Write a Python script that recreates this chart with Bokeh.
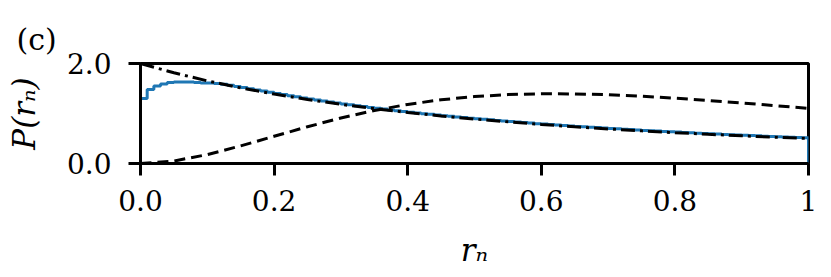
from bokeh.plotting import figure
from bokeh.models import FixedTicker, Range1d, CustomJSTickFormatter, Title
from bokeh.embed import file_html
from bokeh.resources import INLINE

# theory curves sampled along r_n
r_theory = [0.0, 0.05, 0.1, 0.15, 0.2, 0.25, 0.3, 0.35, 0.4, 0.45, 0.5,
            0.55, 0.6, 0.65, 0.7, 0.75, 0.8, 0.85, 0.9, 0.95, 1.0]
p_poisson = [2.0, 1.814, 1.653, 1.512, 1.389, 1.28, 1.183, 1.097, 1.020, 0.951, 0.889,
             0.833, 0.781, 0.735, 0.692, 0.653, 0.617, 0.584, 0.554, 0.526, 0.5]
p_gue = [0.0, 0.050, 0.178, 0.352, 0.544, 0.735, 0.910, 1.060, 1.182, 1.275, 1.339,
         1.378, 1.394, 1.392, 1.375, 1.345, 1.306, 1.261, 1.211, 1.157, 1.103]

# histogram (bin width 0.01 on [0, 1])
bin_width = 0.01
hist_values = [
    1.30, 1.48, 1.55, 1.59, 1.62, 1.63, 1.63, 1.63, 1.62, 1.61,
    1.61, 1.60, 1.585, 1.565, 1.54, 1.52, 1.495, 1.47, 1.45, 1.425,
    1.40, 1.38, 1.355, 1.335, 1.31, 1.29, 1.27, 1.25, 1.23, 1.21,
    1.19, 1.175, 1.155, 1.14, 1.12, 1.105, 1.088, 1.070, 1.056, 1.040,
    1.026, 1.012, 0.997, 0.984, 0.972, 0.957, 0.945, 0.931, 0.921, 0.907,
    0.896, 0.884, 0.873, 0.861, 0.852, 0.839, 0.830, 0.818, 0.809, 0.797,
    0.789, 0.779, 0.770, 0.760, 0.752, 0.742, 0.735, 0.725, 0.718, 0.708,
    0.701, 0.693, 0.685, 0.678, 0.671, 0.662, 0.656, 0.648, 0.641, 0.633,
    0.628, 0.620, 0.614, 0.607, 0.602, 0.594, 0.589, 0.582, 0.577, 0.570,
    0.565, 0.558, 0.553, 0.547, 0.542, 0.536, 0.531, 0.525, 0.521, 0.515,
]

x_ticks = [0.0, 0.2, 0.4, 0.6, 0.8, 1.0]
y_ticks = [0.0, 2.0]

FONT = "DejaVu Serif"

p = figure(width=831, height=277, x_range=Range1d(0, 1), y_range=Range1d(0, 2),
           output_backend="svg", toolbar_location=None,
           min_border_left=140, min_border_right=23, min_border_top=63, min_border_bottom=114)
p.grid.visible = False
p.background_fill_color = "white"
p.border_fill_color = "white"
p.outline_line_color = "black"
p.outline_line_width = 3

# step histogram
sx, sy = [0.0], [0.0]
for k, v in enumerate(hist_values):
    left = k * bin_width
    right = (k + 1) * bin_width
    sx += [left, right]
    sy += [v, v]
sx.append(1.0)
sy.append(0.0)
p.line(sx, sy, line_color="#1f77b4", line_width=3)

p.line(r_theory, p_gue, line_color="black", line_width=3, line_dash="11 6")
p.line(r_theory, p_poisson, line_color="black", line_width=3, line_dash="14 5 3 5")

p.xaxis.ticker = FixedTicker(ticks=x_ticks)
p.yaxis.ticker = FixedTicker(ticks=y_ticks)
p.xaxis.formatter = CustomJSTickFormatter(code="return tick > 0.999 ? '1' : tick.toFixed(1);")
p.yaxis.formatter = CustomJSTickFormatter(code="return tick.toFixed(1);")

for ax in p.axis:
    ax.axis_line_width = 3
    ax.axis_line_color = "black"
    ax.major_tick_line_width = 3
    ax.major_tick_line_color = "black"
    ax.major_tick_in = 0
    ax.major_tick_out = 12
    ax.minor_tick_line_color = None
    ax.major_label_text_font = FONT
    ax.major_label_text_font_size = "28px"
    ax.major_label_text_color = "black"
    ax.axis_label_text_font = FONT
    ax.axis_label_text_font_size = "31px"
    ax.axis_label_text_font_style = "italic"
    ax.axis_label_text_color = "black"

p.xaxis.axis_label = "rₙ"
p.yaxis.axis_label = "P(rₙ)"
p.xaxis.major_label_standoff = 14
p.yaxis.major_label_standoff = 17
p.xaxis.axis_label_standoff = 18
p.yaxis.axis_label_standoff = 22

t = Title(text="(c)", align="left", offset=-124, text_font=FONT,
          text_font_size="30px", text_font_style="normal", text_color="black", standoff=14)
p.add_layout(t, "above")

open("out.html", "w").write(file_html(p, INLINE))
